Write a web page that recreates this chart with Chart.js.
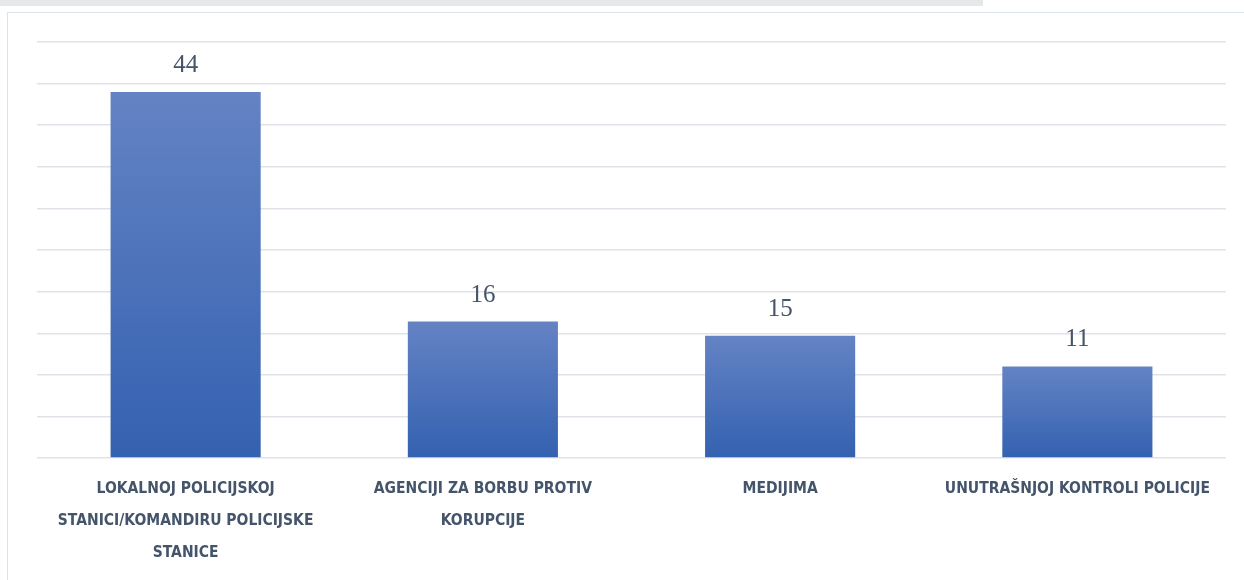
<!DOCTYPE html>
<html>
<head>
<meta charset="utf-8">
<script src="https://cdn.jsdelivr.net/npm/chart.js@4"></script>
<style>
    html, body { margin: 0; padding: 0; background: #ffffff; }
    #page { position: relative; width: 1244px; height: 580px; overflow: hidden; }
    #topband { position: absolute; left: 0; top: 0; width: 983px; height: 6px; background: #e6e7e9; }
    #frame { position: absolute; left: 7px; top: 11.5px; width: 1400px; height: 800px; border: 1.5px solid #dde3ea; }
    #chart { position: absolute; left: 0; top: 0; }
</style>
</head>
<body>
<div id="page">
    <div id="topband"></div>
    <div id="frame"></div>
    <canvas id="chart" width="1244" height="580"></canvas>
</div>
<script>
// categories (multi-line as in the original)
const categories = [
    ["LOKALNOJ POLICIJSKOJ", "STANICI/KOMANDIRU POLICIJSKE", "STANICE"],
    ["AGENCIJI ZA BORBU PROTIV", "KORUPCIJE"],
    ["MEDIJIMA"],
    ["UNUTRAŠNJOJ KONTROLI POLICIJE"]
];
const values = [44, 16.4, 14.7, 11];
const valueLabels = ["44", "16", "15", "11"];

const textColor = "#44546a";

// gradient per bar, light at top, dark at bottom
function barGradient(context) {
    const chart = context.chart;
    if (!chart.chartArea) return "#4a72bc";
    const y = chart.scales.y;
    const top = y.getPixelForValue(context.raw);
    const bottom = y.getPixelForValue(0);
    const g = chart.ctx.createLinearGradient(0, top, 0, bottom);
    g.addColorStop(0, "#6483c4");
    g.addColorStop(1, "#3461b0");
    return g;
}

// value labels above bars
const valueLabelPlugin = {
    id: "valueLabels",
    afterDatasetsDraw(chart) {
        const ctx = chart.ctx;
        const meta = chart.getDatasetMeta(0);
        ctx.save();
        ctx.font = "25px 'Liberation Serif', serif";
        ctx.fillStyle = textColor;
        ctx.textAlign = "center";
        ctx.textBaseline = "alphabetic";
        meta.data.forEach((bar, i) => {
            ctx.fillText(valueLabels[i], bar.x, bar.y - 20);
        });
        ctx.restore();
    }
};

new Chart(document.getElementById("chart"), {
    type: "bar",
    data: {
        labels: categories,
        datasets: [{
            data: values,
            backgroundColor: barGradient,
            borderWidth: 0,
            categoryPercentage: 1,
            barPercentage: 0.505
        }]
    },
    options: {
        responsive: false,
        animation: false,
        layout: { padding: { left: 37, right: 18, top: 42, bottom: 0 } },
        plugins: {
            legend: { display: false },
            tooltip: { enabled: false }
        },
        scales: {
            x: {
                grid: { display: false, drawTicks: false },
                border: { display: false },
                ticks: {
                    color: textColor,
                    padding: 15,
                    maxRotation: 0,
                    autoSkip: false,
                    font: { family: "'DejaVu Sans Condensed', 'Liberation Sans Narrow', sans-serif", weight: "bold", size: 15.5, lineHeight: "32px" }
                },
                afterFit(scale) { scale.height = 122; }
            },
            y: {
                min: 0,
                max: 50,
                ticks: { display: false, stepSize: 5 },
                grid: { color: "#dfe3e9", lineWidth: 1.4, drawTicks: false },
                border: { display: false }
            }
        }
    },
    plugins: [valueLabelPlugin]
});
</script>
</body>
</html>
